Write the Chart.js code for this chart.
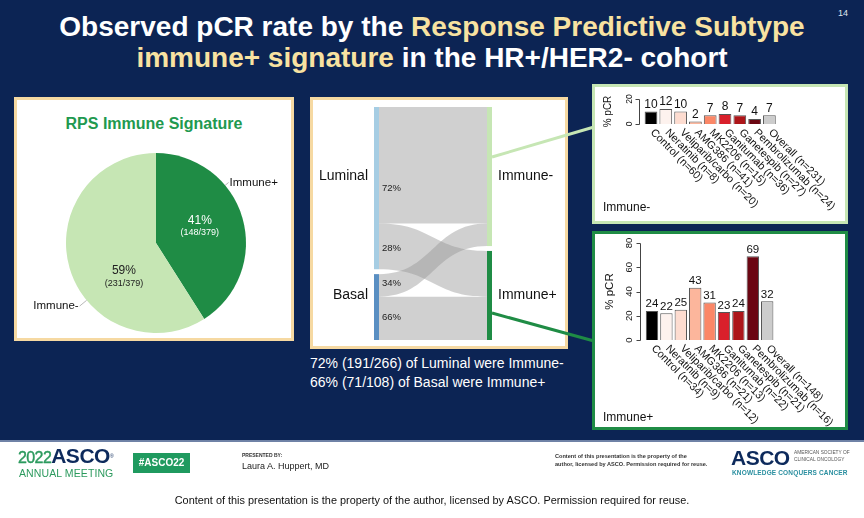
<!DOCTYPE html>
<html>
<head>
<meta charset="utf-8">
<script src="https://cdn.jsdelivr.net/npm/chart.js@4.4.1/dist/chart.umd.min.js"></script>
<style>
body{margin:0;width:864px;height:518px;overflow:hidden;background:#fff;font-family:"Liberation Sans",Arial,sans-serif;position:relative;}
.abs{position:absolute;white-space:nowrap;}
#slide{position:absolute;left:0;top:0;width:864px;height:440px;background:#0c2454;}
#rule{position:absolute;left:0;top:440px;width:864px;height:2px;background:#6f82a6;}
.box{position:absolute;background:#fff;box-sizing:border-box;border:3px solid #f6d9a2;}
.ttl{position:absolute;left:0;width:864px;text-align:center;font-size:28px;font-weight:bold;color:#fff;line-height:31px;}
.ttl span{color:#f8e2a1;}
canvas{position:absolute;}
.wt{color:#fff;font-size:14px;}
</style>
</head>
<body>
<div id="slide"></div>
<div id="rule"></div>

<div class="ttl" style="top:11px">Observed pCR rate by the <span>Response Predictive Subtype</span></div>
<div class="ttl" style="top:42px"><span>immune+ signature</span> in the HR+/HER2- cohort</div>
<div class="abs" style="left:838px;top:8px;font-size:9px;color:#dfe4ee">14</div>

<div class="box" style="left:14px;top:97px;width:280px;height:244px"></div>
<div class="box" style="left:310px;top:97px;width:258px;height:252px"></div>
<div class="box" style="left:592px;top:84px;width:256px;height:140px;border-color:#c6e6b4"></div>
<div class="box" style="left:592px;top:231px;width:256px;height:199px;border-color:#1f8c45"></div>

<div class="abs" style="left:14px;width:280px;top:115px;text-align:center;font-size:16px;font-weight:bold;color:#21994f">RPS Immune Signature</div>

<canvas id="pie" width="274" height="238" style="left:17px;top:100px"></canvas>
<canvas id="sankey" width="252" height="245" style="left:312px;top:100px"></canvas>
<canvas id="barMinus" width="250" height="134" style="left:595px;top:87px"></canvas>
<canvas id="barPlus" width="250" height="193" style="left:595px;top:234px"></canvas>

<div class="abs" style="left:603px;top:200px;font-size:12px;color:#111">Immune-</div>
<div class="abs" style="left:603px;top:410px;font-size:12px;color:#111">Immune+</div>

<div class="abs wt" style="left:310px;top:355px">72% (191/266) of Luminal were Immune-</div>
<div class="abs wt" style="left:310px;top:374px">66% (71/108) of Basal were Immune+</div>

<svg class="abs" width="864" height="518" style="left:0;top:0;pointer-events:none">
  <line x1="492" y1="157" x2="594" y2="127" stroke="#c6e6b4" stroke-width="3"/>
  <line x1="492" y1="313" x2="594" y2="341" stroke="#1f8c45" stroke-width="3"/>
</svg>

<!-- footer -->
<div class="abs" style="left:18px;top:446px;line-height:20px">
  <span style="font-size:16px;color:#2c9a5e;letter-spacing:-0.6px;-webkit-text-stroke:0.4px #2c9a5e">2022</span><span style="font-size:21px;font-weight:900;color:#0d2a5c;letter-spacing:-0.5px">ASCO</span><span style="font-size:5px;color:#0d2a5c;vertical-align:top">®</span>
</div>
<div class="abs" style="left:19px;top:467px;font-size:10.5px;color:#2c9a5e;letter-spacing:0.1px">ANNUAL MEETING</div>
<div class="abs" style="left:133px;top:453px;width:57px;height:20px;background:#1f9a5f;color:#fff;font-size:10px;font-weight:bold;line-height:20px;text-align:center">#ASCO22</div>
<div class="abs" style="left:242px;top:452px;font-size:5px;font-weight:bold;color:#333">PRESENTED BY:</div>
<div class="abs" style="left:242px;top:461px;font-size:9px;color:#222">Laura A. Huppert, MD</div>
<div class="abs" style="left:555px;top:452px;font-size:5.6px;font-weight:bold;color:#333;line-height:8px">Content of this presentation is the property of the<br>author, licensed by ASCO. Permission required for reuse.</div>
<div class="abs" style="left:731px;top:446px;font-size:21px;font-weight:900;color:#0d2a5c;letter-spacing:-0.5px">ASCO</div>
<div class="abs" style="left:794px;top:449px;font-size:4.8px;color:#555;line-height:7px">AMERICAN SOCIETY OF<br>CLINICAL ONCOLOGY</div>
<div class="abs" style="left:732px;top:469px;font-size:6.5px;font-weight:bold;color:#2a8fa0;letter-spacing:0.15px">KNOWLEDGE CONQUERS CANCER</div>
<div class="abs" style="left:0;width:864px;top:494px;text-align:center;font-size:10.9px;color:#111">Content of this presentation is the property of the author, licensed by ASCO. Permission required for reuse.</div>

<script>
// pie (slices drawn from the percentages printed on the slide)
const pieLabels = ['Immune+', 'Immune-'];
const piePct = [41, 59];
const pieCounts = [148, 231];
const pieTotal = 379;
const pieColors = ['#1f8c45', '#c6e6b4'];

// sankey (rows = subtype, cols = immune group)
const sources = ['Luminal', 'Basal'];
const targets = ['Immune-', 'Immune+'];
const flowCounts = [[191, 75], [37, 71]];

// bar charts
const arms = ['Control', 'Neratinib', 'Veliparib/carbo', 'AMG386', 'MK2206', 'Ganitumab', 'Ganetespib', 'Pembrolizumab', 'Overall'];
const nMinus = [60, 8, 20, 41, 15, 36, 27, 24, 231];
const pcrMinus = [10, 12, 10, 2, 7, 8, 7, 4, 7];
const ticksMinus = [0, 20];
const nPlus = [34, 9, 12, 21, 13, 22, 21, 16, 148];
const pcrPlus = [24, 22, 25, 43, 31, 23, 24, 69, 32];
const ticksPlus = [0, 20, 40, 60, 80];
const armColors = ['#000000', '#fdf2ee', '#fddcd0', '#fcb69c', '#fb8767', '#d9202b', '#ad1519', '#6b0612', '#cccccc'];

const FONT = '"Liberation Sans", Arial, sans-serif';
const q = (s) => document.querySelector(s);

// ---------- pie ----------
const pieText = {
  id: 'pieText',
  afterDraw(chart) {
    const { ctx } = chart;
    // where inside / outside each slice the text goes (fraction along slice, fraction of radius)
    const inner = [[0.47, 0.52, '#fff'], [0.356, 0.52, '#222']];
    const outer = [[0.34, 1.05, 'left'], [0.39, 1.1, 'right']];
    chart.getDatasetMeta(0).data.forEach((arc, i) => {
      const r = arc.outerRadius;
      let [f, k, col] = inner[i];
      let a = arc.startAngle + (arc.endAngle - arc.startAngle) * f;
      let px = arc.x + Math.cos(a) * r * k, py = arc.y + Math.sin(a) * r * k;
      ctx.save();
      ctx.fillStyle = col;
      ctx.textAlign = 'center';
      ctx.textBaseline = 'middle';
      ctx.font = '12px ' + FONT;
      ctx.fillText(piePct[i] + '%', px, py - 6);
      ctx.font = '9px ' + FONT;
      ctx.fillText('(' + pieCounts[i] + '/' + pieTotal + ')', px, py + 6);

      const [f2, k2, al] = outer[i];
      a = arc.startAngle + (arc.endAngle - arc.startAngle) * f2;
      px = arc.x + Math.cos(a) * r * k2;
      py = arc.y + Math.sin(a) * r * k2;
      ctx.strokeStyle = '#999';
      ctx.lineWidth = 0.7;
      ctx.beginPath();
      ctx.moveTo(arc.x + Math.cos(a) * r, arc.y + Math.sin(a) * r);
      ctx.lineTo(px, py);
      ctx.stroke();
      ctx.fillStyle = '#111';
      ctx.font = '11.5px ' + FONT;
      ctx.textAlign = al;
      ctx.fillText(pieLabels[i], px + (al === 'left' ? 1 : -1), py);
      ctx.restore();
    });
  }
};

new Chart(q('#pie'), {
  type: 'pie',
  data: { labels: pieLabels, datasets: [{ data: piePct, backgroundColor: pieColors, borderWidth: 0 }] },
  options: {
    responsive: false, animation: false,
    layout: { padding: { left: 49, right: 45, top: 53, bottom: 5 } },
    plugins: { legend: { display: false }, tooltip: { enabled: false } }
  },
  plugins: [pieText]
});

// ---------- sankey ----------
const nodeGap = 8;
const srcTotals = flowCounts.map(r => r.reduce((a, b) => a + b, 0));
const tgtTotals = targets.map((_, j) => flowCounts.reduce((a, r) => a + r[j], 0));
const yMax = srcTotals.reduce((a, b) => a + b, 0) + nodeGap * (sources.length - 1);

const sankeyDraw = {
  id: 'sankeyDraw',
  afterDraw(chart) {
    const { ctx, scales: { x, y } } = chart;
    const nodeW = 5;
    const xl = x.getPixelForValue(0), xr = x.getPixelForValue(1);
    const x0 = xl + nodeW, x1 = xr - nodeW, xm = (x0 + x1) / 2;
    const srcStart = [], tgtStart = [];
    let acc = 0;
    srcTotals.forEach(t => { srcStart.push(acc); acc += t + nodeGap; });
    acc = 0;
    tgtTotals.forEach(t => { tgtStart.push(acc); acc += t + nodeGap; });

    ctx.save();
    const pctLabels = [];
    sources.forEach((s, i) => {
      let ls = srcStart[i];
      targets.forEach((t, j) => {
        const n = flowCounts[i][j];
        let rs = tgtStart[j];
        for (let k = 0; k < i; k++) rs += flowCounts[k][j];
        const le = ls + n, re = rs + n;
        ctx.fillStyle = 'rgba(150,150,150,0.45)';
        ctx.beginPath();
        ctx.moveTo(x0, y.getPixelForValue(ls));
        ctx.bezierCurveTo(xm, y.getPixelForValue(ls), xm, y.getPixelForValue(rs), x1, y.getPixelForValue(rs));
        ctx.lineTo(x1, y.getPixelForValue(re));
        ctx.bezierCurveTo(xm, y.getPixelForValue(re), xm, y.getPixelForValue(le), x0, y.getPixelForValue(le));
        ctx.closePath();
        ctx.fill();
        pctLabels.push([Math.round(n / srcTotals[i] * 100) + '%', (y.getPixelForValue(ls) + y.getPixelForValue(le)) / 2]);
        ls = le;
      });
    });

    const srcCol = ['#a6cde3', '#5a8fc2'], tgtCol = ['#c6e6b4', '#1f8c45'];
    ctx.font = '14px ' + FONT;
    ctx.textBaseline = 'middle';
    sources.forEach((s, i) => {
      const a = y.getPixelForValue(srcStart[i]), b = y.getPixelForValue(srcStart[i] + srcTotals[i]);
      ctx.fillStyle = srcCol[i];
      ctx.fillRect(xl, a, nodeW, b - a);
      ctx.fillStyle = '#111';
      ctx.textAlign = 'right';
      ctx.fillText(s, xl - 6, (a + b) / 2 - 12);
    });
    targets.forEach((t, j) => {
      const a = y.getPixelForValue(tgtStart[j]), b = y.getPixelForValue(tgtStart[j] + tgtTotals[j]);
      ctx.fillStyle = tgtCol[j];
      ctx.fillRect(x1, a, nodeW, b - a);
      ctx.fillStyle = '#111';
      ctx.textAlign = 'left';
      ctx.fillText(t, xr + 6, (a + b) / 2);
    });
    ctx.font = '9.5px ' + FONT;
    ctx.textAlign = 'left';
    ctx.fillStyle = '#222';
    const shift = [23, 2, -2, -1];
    pctLabels.forEach(([txt, py], k) => ctx.fillText(txt, x0 + 3, py + shift[k]));
    ctx.restore();
  }
};

new Chart(q('#sankey'), {
  type: 'scatter',
  data: { datasets: [] },
  options: {
    responsive: false, animation: false,
    layout: { padding: { left: 62, right: 72, top: 7, bottom: 5 } },
    scales: {
      x: { type: 'linear', min: 0, max: 1, display: false },
      y: { type: 'linear', min: 0, max: yMax, reverse: true, display: false }
    },
    plugins: { legend: { display: false }, tooltip: { enabled: false } }
  },
  plugins: [sankeyDraw]
});

// ---------- R-style bar plots ----------
function rAxes(cfg) {
  return {
    id: 'rAxes',
    afterDraw(chart) {
      const { ctx, chartArea: a, scales: { x, y } } = chart;
      const vals = chart.data.datasets[0].data;
      ctx.save();
      ctx.fillStyle = '#111';
      ctx.strokeStyle = '#444';
      ctx.lineWidth = 1;

      ctx.font = cfg.valFont + 'px ' + FONT;
      ctx.textAlign = 'center';
      ctx.textBaseline = 'bottom';
      chart.getDatasetMeta(0).data.forEach((bar, i) => ctx.fillText(vals[i], bar.x, bar.y - 1));

      ctx.font = cfg.labFont + 'px ' + FONT;
      ctx.textAlign = 'left';
      ctx.textBaseline = 'middle';
      chart.data.labels.forEach((lab, i) => {
        ctx.save();
        ctx.translate(x.getPixelForValue(i) + 1, a.bottom + 7);
        ctx.rotate(Math.PI / 4);
        ctx.fillText(lab, 0, 0);
        ctx.restore();
      });

      const ax = Math.round(a.left - 5) + 0.5;
      const t = cfg.ticks;
      ctx.beginPath();
      ctx.moveTo(ax, Math.round(y.getPixelForValue(t[0])) + 0.5);
      ctx.lineTo(ax, Math.round(y.getPixelForValue(t[t.length - 1])) + 0.5);
      t.forEach(v => {
        const py = Math.round(y.getPixelForValue(v)) + 0.5;
        ctx.moveTo(ax, py);
        ctx.lineTo(ax - 4, py);
      });
      ctx.stroke();

      ctx.font = cfg.tickFont + 'px ' + FONT;
      ctx.textAlign = 'center';
      ctx.textBaseline = 'bottom';
      t.forEach(v => {
        ctx.save();
        ctx.translate(ax - 6, y.getPixelForValue(v));
        ctx.rotate(-Math.PI / 2);
        ctx.fillText(v, 0, 0);
        ctx.restore();
      });

      ctx.font = cfg.titleFont + 'px ' + FONT;
      ctx.textBaseline = 'middle';
      ctx.save();
      ctx.translate(ax - 31, (y.getPixelForValue(t[0]) + y.getPixelForValue(t[t.length - 1])) / 2);
      ctx.rotate(-Math.PI / 2);
      ctx.fillText('% pCR', 0, 0);
      ctx.restore();
      ctx.restore();
    }
  };
}

function barPlot(id, vals, ns, ticks, pad, cfg) {
  return new Chart(q(id), {
    type: 'bar',
    data: {
      labels: arms.map((s, i) => `${s} (n=${ns[i]})`),
      datasets: [{
        data: vals, backgroundColor: armColors, borderColor: '#555', borderWidth: 1,
        barPercentage: 0.86, categoryPercentage: 1
      }]
    },
    options: {
      responsive: false, animation: false,
      layout: { padding: pad },
      scales: {
        x: { display: false },
        y: { display: false, min: ticks[0], max: ticks[ticks.length - 1] }
      },
      plugins: { legend: { display: false }, tooltip: { enabled: false } }
    },
    plugins: [rAxes(Object.assign({ ticks }, cfg))]
  });
}

barPlot('#barMinus', pcrMinus, nMinus, ticksMinus,
  { left: 48.6, right: 68.2, top: 12, bottom: 97 },
  { valFont: 12, labFont: 10.8, tickFont: 8.5, titleFont: 10 });
barPlot('#barPlus', pcrPlus, nPlus, ticksPlus,
  { left: 49.8, right: 70.6, top: 9, bottom: 87 },
  { valFont: 11.5, labFont: 10.8, tickFont: 9.5, titleFont: 11.5 });
</script>
</body>
</html>
